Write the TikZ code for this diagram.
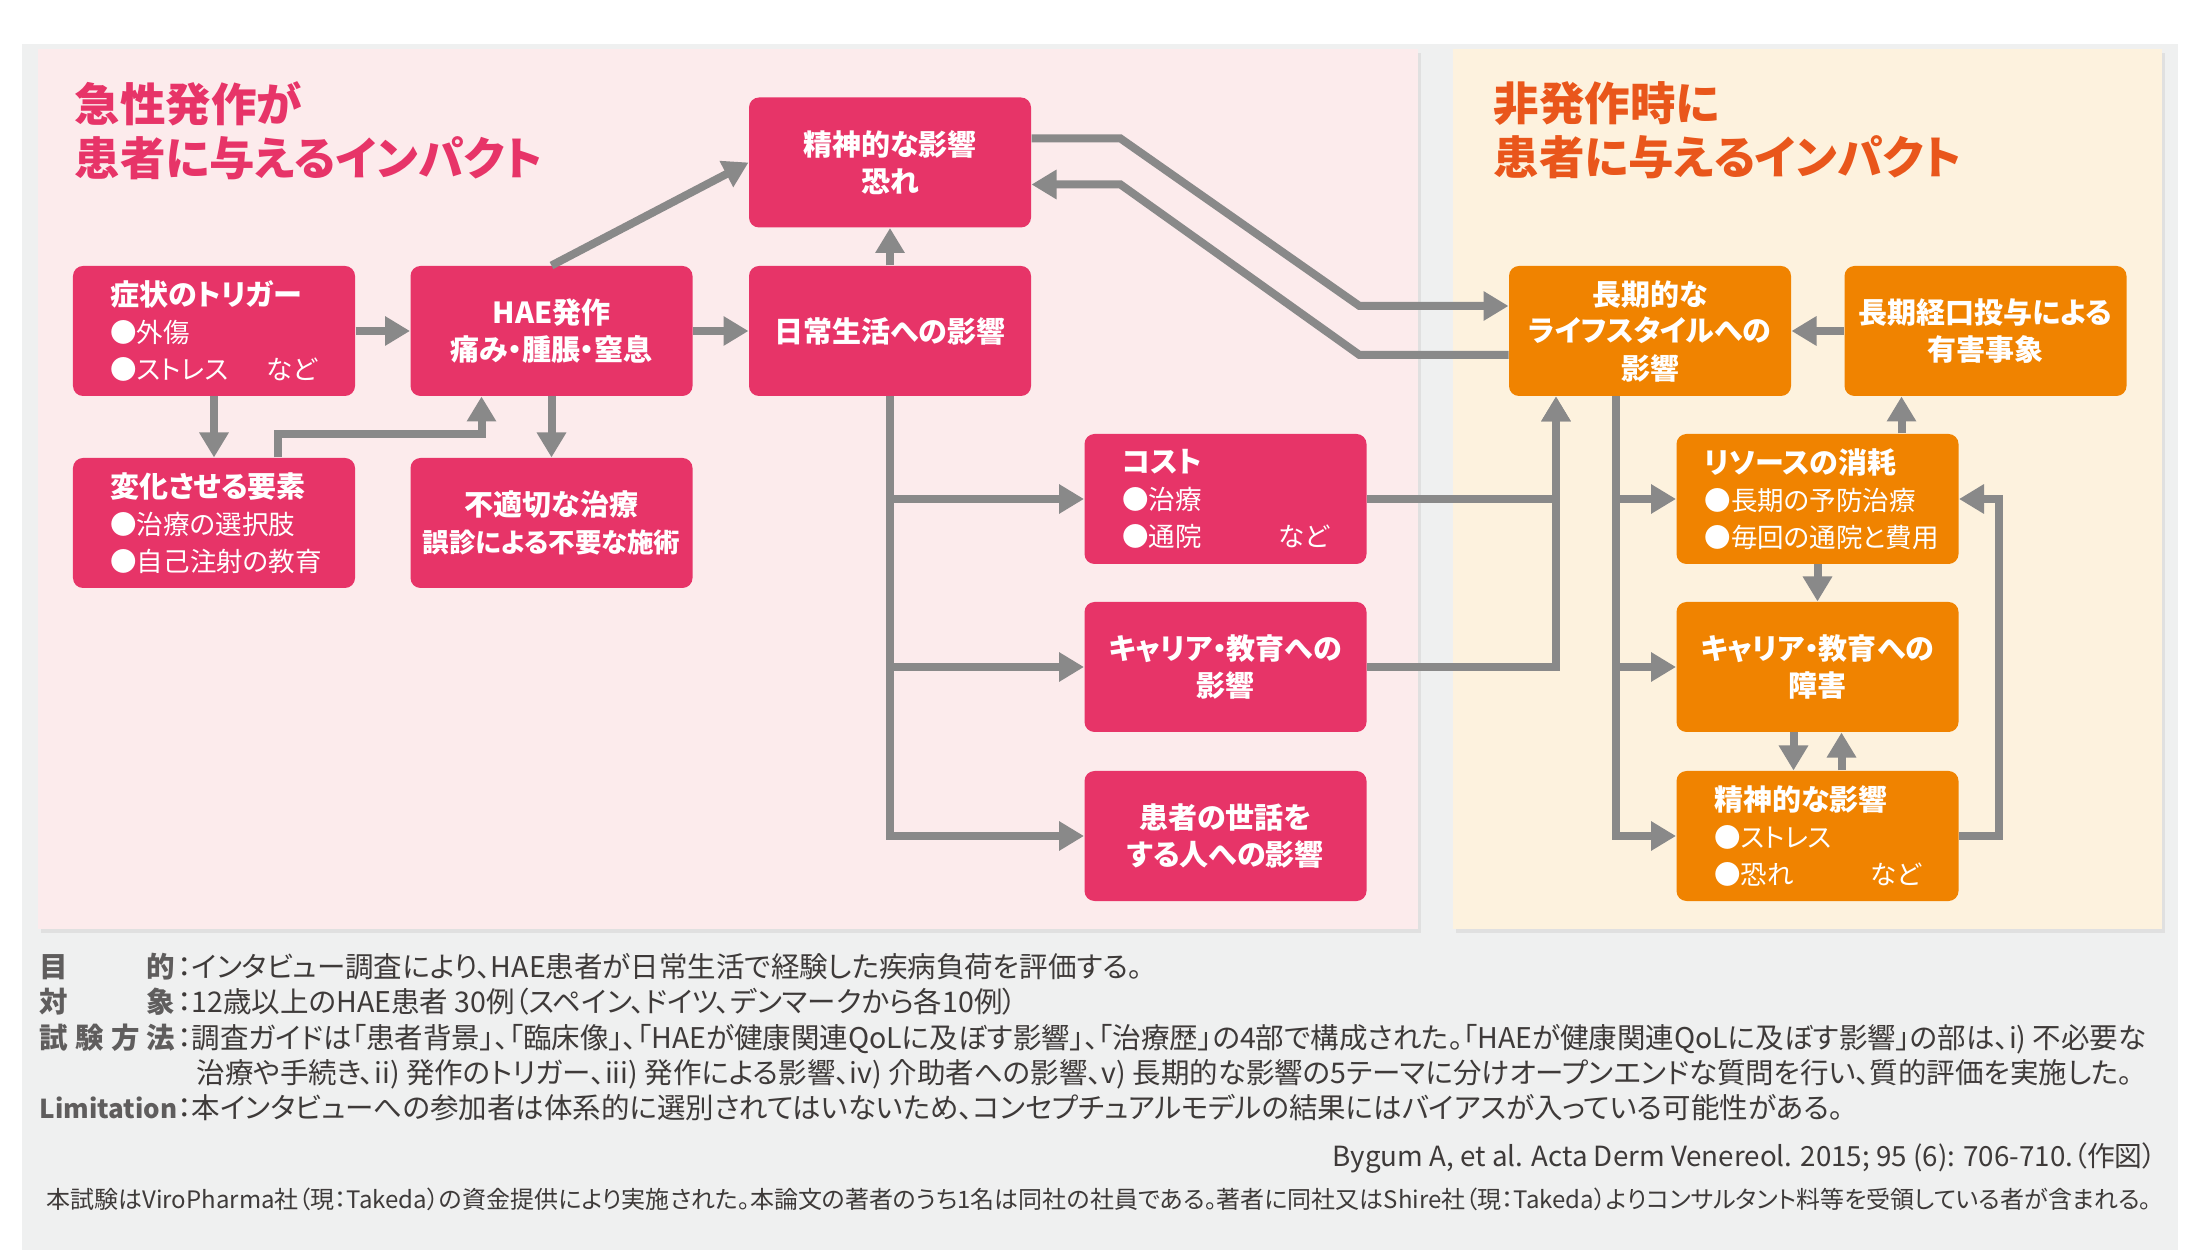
\documentclass[tikz,border=0pt]{standalone}
\usepackage{fontspec}
\setmainfont{Noto Sans CJK JP}[RawFeature=+palt]
\usetikzlibrary{arrows.meta,calc,positioning}

\definecolor{hpink}{HTML}{E73468}
\definecolor{horange}{HTML}{F08300}
\definecolor{ptitle}{HTML}{E73468}
\definecolor{otitle}{HTML}{E9561B}
\definecolor{pinkbg}{HTML}{FCEBEC}
\definecolor{creambg}{HTML}{FDF2DE}
\definecolor{lgray}{HTML}{898989}
\definecolor{bggray}{HTML}{EFF0F0}
\definecolor{txtgray}{HTML}{3E3A39}
\definecolor{lblgray}{HTML}{5F5D5D}

\newcommand{\boxfont}{\fontsize{11.6pt}{14.8pt}\selectfont\bfseries}
\newcommand{\itemfont}{\fontsize{10.6pt}{14.8pt}\selectfont\mdseries}
\newcommand{\titlefont}{\fontsize{18.2pt}{21.6pt}\selectfont\bfseries}
\newcommand{\notefont}{\fontsize{11.4pt}{14pt}\selectfont}
\newcommand{\finefont}{\fontsize{9.6pt}{12pt}\selectfont}

\begin{document}
\begin{tikzpicture}[x=0.4pt,y=-0.4pt,
    box/.style={fill=hpink,rounded corners=4pt,minimum width=112.8pt,minimum height=52pt,
      inner sep=0pt,text=white,align=center,font=\boxfont},
    obox/.style={box,fill=horange},
    listbox/.style={align=left,text width=#1},
    conn/.style={draw=lgray,line width=3.2pt,-{Triangle[length=10pt,width=11.2pt]}},
    ttl/.style={font=\titlefont,align=left,inner sep=0pt},
    lbl/.style={font=\notefont\bfseries,text=lblgray,inner sep=0pt,text height=0.85em,text depth=0.15em},
    note/.style={font=\notefont,text=txtgray,inner sep=0pt,text height=0.85em,text depth=0.15em}]
    \useasboundingbox (0,0) rectangle (2200,1250);
    \fill[white] (0,0) rectangle (2200,1250);
    \fill[bggray] (22,44) rectangle (2178,1250);
    \fill[black!12] (41,53) rectangle (1421,933);
    \fill[black!12] (1456,53) rectangle (2165,933);
    \fill[pinkbg] (38,49) rectangle (1418,929);
    \fill[creambg] (1453,49) rectangle (2162,929);

    \node[ttl,text=ptitle,anchor=north west] (acuteT) at (74,81) {急性発作が\\患者に与えるインパクト};
    \node[ttl,text=otitle,anchor=north west] (chronT) at (1493,81) {非発作時に\\患者に与えるインパクト};

    \node[box] (mental) at (890,162.5) {精神的な影響\\恐れ};
    \node[box,listbox=82.8pt] (trig) at (214,331) {症状のトリガー\\{\itemfont ●外傷}\\{\itemfont ●ストレス\hfill など}};
    \node[box] (hae) at (551.5,331) {HAE発作\\痛み・腫脹・窒息};
    \node[box] (daily) at (890,331) {日常生活への影響};
    \node[box,listbox=82.8pt] (mod) at (214,523) {変化させる要素\\{\itemfont ●治療の選択肢}\\{\itemfont ●自己注射の教育}};
    \node[box] (inapp) at (551.5,523) {不適切な治療\\{\fontsize{10.6pt}{14.8pt}\selectfont 誤診による不要な施術}};
    \node[box,listbox=82.8pt] (cost) at (1225.5,499) {コスト\\{\itemfont ●治療}\\{\itemfont ●通院\hfill など}};
    \node[box] (career) at (1225.5,667) {キャリア・教育への\\影響};
    \node[box] (carer) at (1225.5,836) {患者の世話を\\する人への影響};

    \node[obox] (life) at (1650,331) {長期的な\\ライフスタイルへの\\影響};
    \node[obox] (adverse) at (1985.5,331) {長期経口投与による\\有害事象};
    \node[obox,listbox=90.4pt] (res) at (1817.5,499) {リソースの消耗\\{\itemfont ●長期の予防治療}\\{\itemfont ●毎回の通院と費用}};
    \node[obox] (barrier) at (1817.5,667) {キャリア・教育への\\障害};
    \node[obox,listbox=82.8pt] (omental) at (1817.5,836) {精神的な影響\\{\itemfont ●ストレス}\\{\itemfont ●恐れ\hfill など}};

    \draw[conn] (trig) -- (hae);
    \draw[conn] (hae) -- (daily);
    \draw[conn] (hae.north) -- (mental.west);
    \draw[conn] (daily) -- (mental);
    \draw[conn] (trig) -- (mod);
    \draw[conn] ($(mod.north)+(64,0)$) |- ($(hae.south)+(-70,38)$) -- ($(hae.south)+(-70,0)$);
    \draw[conn] (hae) -- (inapp);
    \draw[conn] (daily.south) |- (cost);
    \draw[conn] (daily.south) |- (career);
    \draw[conn] (daily.south) |- (carer);
    \draw[conn] ($(mental.east)+(0,-24)$) -- ++(89,0) -- ($(life.west)+(-149,-25)$) -- ($(life.west)+(0,-25)$);
    \draw[conn] ($(life.west)+(0,24)$) -- ++(-149,0) -- ($(mental.east)+(89,22)$) -- ($(mental.east)+(0,22)$);
    \draw[conn] (adverse) -- (life);
    \draw[conn] (cost) -| ($(life.south)+(-94,0)$);
    \draw[conn] (career) -| ($(life.south)+(-94,0)$);
    \draw[conn] ($(life.south)+(-34,0)$) |- (res);
    \draw[conn] ($(life.south)+(-34,0)$) |- (barrier);
    \draw[conn] ($(life.south)+(-34,0)$) |- (omental);
    \draw[conn] ($(res.north)+(84,0)$) -- ($(adverse.south)+(-84,0)$);
    \draw[conn] (res) -- (barrier);
    \draw[conn] ($(barrier.south)+(-24,0)$) -- ($(omental.north)+(-24,0)$);
    \draw[conn] ($(omental.north)+(24,0)$) -- ($(barrier.south)+(24,0)$);
    \draw[conn] (omental.east) -- ++(40,0) |- (res.east);

    \node[lbl,anchor=base west] (aimL) at (39,977) {\makebox[54.4pt][s]{目\hfill 的}};
    \node[note,anchor=base west] (aimT) at (177,977) {：インタビュー調査により、HAE患者が日常生活で経験した疾病負荷を評価する。};
    \node[lbl,anchor=base west] (subjL) at (39,1012) {\makebox[54.4pt][s]{対\hfill 象}};
    \node[note,anchor=base west] (subjT) at (177,1012) {：12歳以上のHAE患者 30例（スペイン、ドイツ、デンマークから各10例）};
    \node[lbl,anchor=base west] (methL) at (39,1048) {\makebox[54.4pt][s]{試\hfill 験\hfill 方\hfill 法}};
    \node[note,anchor=base west] (methT) at (177,1048) {：調査ガイドは「患者背景」、「臨床像」、「HAEが健康関連QoLに及ぼす影響」、「治療歴」の4部で構成された。「HAEが健康関連QoLに及ぼす影響」の部は、i) 不必要な};
    \node[note,anchor=base west] (methT2) at (196,1083) {治療や手続き、ii) 発作のトリガー、iii) 発作による影響、iv) 介助者への影響、v) 長期的な影響の5テーマに分けオープンエンドな質問を行い、質的評価を実施した。};
    \node[lbl,anchor=base west] (limL) at (39,1118) {\makebox[54.4pt][l]{\fontsize{10.4pt}{14pt}\selectfont Limitation}};
    \node[note,anchor=base west] (limT) at (177,1118) {：本インタビューへの参加者は体系的に選別されてはいないため、コンセプチュアルモデルの結果にはバイアスが入っている可能性がある。};
    \node[note,font=\fontsize{11.1pt}{14pt}\selectfont,anchor=base east] (refT) at (2157,1166) {Bygum A, et al. Acta Derm Venereol. 2015; 95 (6): 706-710.（作図）};
    \node[note,font=\finefont,anchor=base west] (fundT) at (46,1208) {本試験はViroPharma社（現：Takeda）の資金提供により実施された。本論文の著者のうち1名は同社の社員である。著者に同社又はShire社（現：Takeda）よりコンサルタント料等を受領している者が含まれる。};
\end{tikzpicture}
\end{document}
